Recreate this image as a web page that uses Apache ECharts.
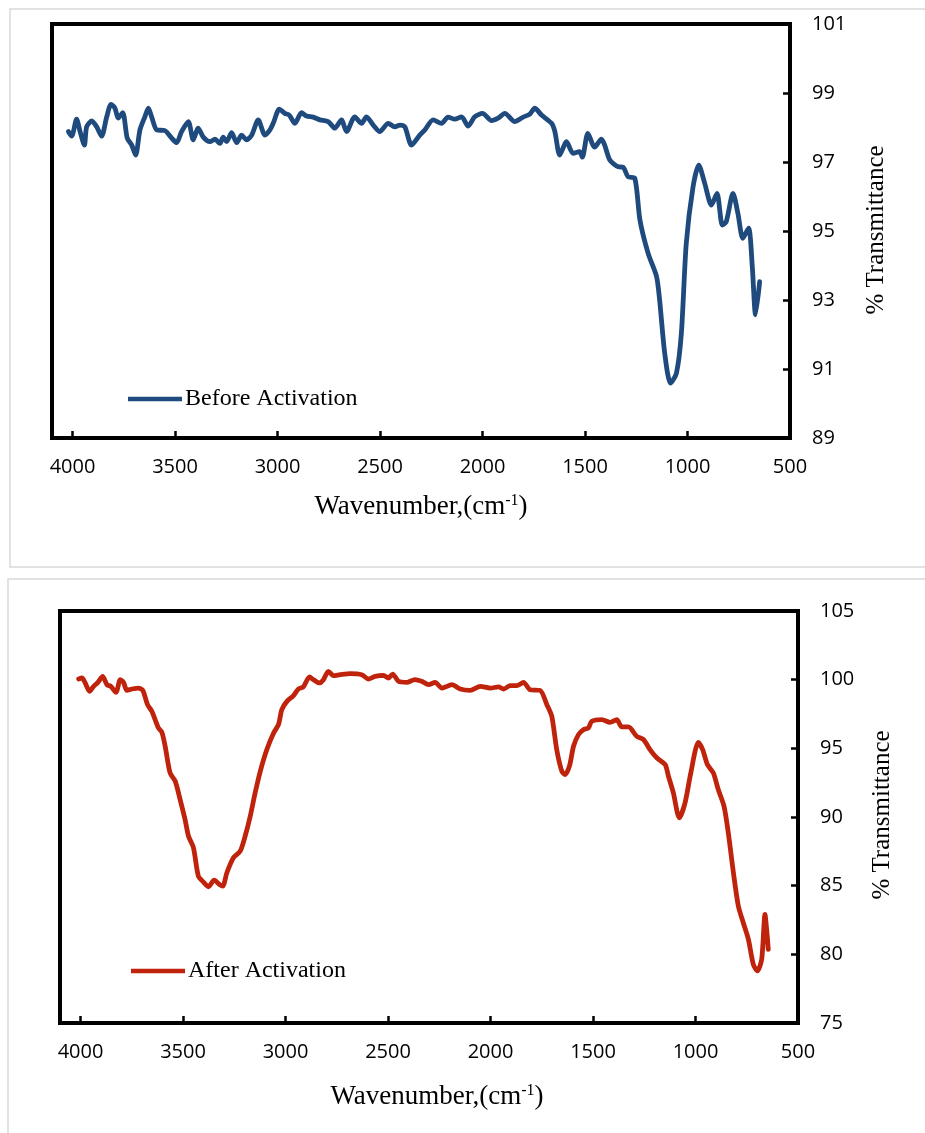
<!DOCTYPE html>
<html>
<head>
<meta charset="utf-8">
<script src="https://cdn.jsdelivr.net/npm/echarts@6/dist/echarts.min.js"></script>
<style>
html,body{margin:0;padding:0;background:#fff;}
#chart{width:925px;height:1133px;}
</style>
</head>
<body>
<div id="chart"></div>
<script>
// ---- Data: Before Activation (top) ----
const beforeWavenumber = [4020,4004,3980,3963,3942,3931,3906,3882,3858,3833,3812,3793,3777,3755,3733,3711,3692,3671,3647,3630,3614,3589,3549,3516,3492,3468,3435,3411,3387,3362,3330,3305,3281,3265,3248,3224,3199,3175,3151,3126,3094,3061,3037,3021,2991,2964,2943,2915,2883,2858,2826,2793,2753,2720,2688,2663,2623,2590,2566,2533,2501,2460,2428,2403,2379,2346,2306,2281,2241,2200,2168,2135,2102,2070,2038,2000,1956,1924,1891,1843,1802,1769,1745,1712,1663,1647,1623,1590,1558,1526,1513,1486,1453,1420,1404,1379,1338,1314,1290,1257,1232,1192,1151,1136,1111,1083,1054,1030,1006,973,945,916,883,856,830,811,778,754,730,702,684,668,648];
const beforeTransmittance = [97.88,97.75,98.24,97.88,97.49,98.02,98.19,98.02,97.75,98.31,98.67,98.56,98.27,98.43,97.69,97.49,97.20,97.93,98.31,98.56,98.31,97.93,97.91,97.69,97.56,97.88,98.17,97.64,97.98,97.72,97.59,97.66,97.54,97.72,97.59,97.85,97.56,97.78,97.64,97.78,98.22,97.78,97.93,98.12,98.53,98.41,98.36,98.12,98.43,98.33,98.30,98.22,98.17,97.98,98.22,97.88,98.31,98.12,98.31,98.07,97.88,98.12,98.02,98.07,98.02,97.49,97.78,97.93,98.22,98.12,98.30,98.24,98.31,98.04,98.31,98.41,98.20,98.27,98.41,98.17,98.30,98.39,98.56,98.36,98.12,97.88,97.20,97.59,97.25,97.30,97.14,97.83,97.43,97.66,97.49,97.06,96.86,96.85,96.57,96.53,95.32,94.35,93.68,93.00,91.45,90.59,90.88,92.03,94.64,96.28,96.91,96.38,95.75,96.09,95.17,95.27,96.09,95.51,94.79,95.08,93.97,92.57,93.53];

// ---- Data: After Activation (bottom) ----
const afterWavenumber = [4009,3993,3977,3956,3936,3915,3892,3871,3852,3827,3806,3790,3774,3749,3717,3696,3673,3652,3636,3620,3603,3587,3563,3538,3514,3490,3473,3449,3425,3400,3376,3348,3322,3306,3286,3254,3221,3197,3172,3148,3123,3091,3058,3034,3018,2993,2961,2937,2913,2883,2864,2835,2815,2791,2766,2734,2685,2628,2596,2563,2522,2498,2477,2449,2409,2369,2336,2302,2270,2237,2188,2148,2099,2050,2002,1961,1936,1904,1872,1839,1807,1758,1725,1701,1677,1652,1636,1615,1595,1571,1547,1522,1506,1457,1417,1384,1360,1327,1287,1254,1222,1189,1148,1132,1108,1079,1051,1023,986,965,942,913,889,861,840,815,791,767,742,718,698,677,661,653,645];
const afterTransmittance = [100.05,100.12,99.76,99.15,99.51,99.80,100.24,99.64,99.51,99.08,100.0,99.80,99.22,99.32,99.39,99.22,98.18,97.70,97.09,96.49,96.17,95.15,93.21,92.61,91.27,89.82,88.60,87.76,85.69,85.26,84.92,85.40,85.09,84.97,85.94,87.03,87.51,88.60,90.06,91.76,93.33,94.91,96.12,96.73,97.82,98.42,98.84,99.32,99.47,100.2,100.0,99.76,100.0,100.61,100.29,100.36,100.44,100.36,100.05,100.24,100.31,100.12,100.41,99.88,99.80,100.0,99.88,99.64,99.80,99.39,99.64,99.32,99.22,99.51,99.39,99.47,99.32,99.56,99.56,99.80,99.27,99.22,98.18,97.33,94.91,93.33,93.09,93.70,95.15,96.0,96.36,96.49,96.97,97.09,96.89,97.09,96.56,96.56,95.88,95.64,94.91,94.31,93.82,92.97,91.76,89.94,91.03,93.21,95.44,94.91,93.82,93.21,92.0,90.79,88.85,85.94,83.51,82.30,81.09,79.27,78.79,79.64,82.91,81.82,80.36];

// ---- Axis tick values ----
const xTicksMin = 500, xTicksMax = 4100, xTickStep = 500;
const topYMin = 89, topYMax = 101, topYStep = 2;
const botYMin = 75, botYMax = 105, botYStep = 5;

const seriesNames = ['Before Activation', 'After Activation'];
const xTitle = 'Wavenumber,(cm';
const yTitle = '% Transmittance';

const pairs = (xs, ys) => xs.map((x, i) => [x, ys[i]]);

const chart = echarts.init(document.getElementById('chart'), null, {renderer: 'canvas'});

const labelFont = {fontFamily: 'Open Sans', fontSize: 20, color: '#000'};
const serif = 'Liberation Serif';

function xAxis(gridIndex) {
  return {
    type: 'value', gridIndex, min: xTicksMin, max: xTicksMax, interval: xTickStep, inverse: true,
    axisLine: {show: true, lineStyle: {color: '#000', width: 4}},
    axisTick: {show: true, inside: true, length: 7, lineStyle: {color: '#000', width: 2.5}},
    axisLabel: Object.assign({margin: 19, showMaxLabel: false,
      formatter: v => (v > 4000 ? '' : String(v))}, labelFont),
    splitLine: {show: false}
  };
}
function yAxis(gridIndex, min, max, step) {
  return {
    type: 'value', gridIndex, position: 'right', min, max, interval: step,
    axisLine: {show: true, lineStyle: {color: '#000', width: 4}},
    axisTick: {show: true, inside: true, length: 7, lineStyle: {color: '#000', width: 2.5}},
    axisLabel: Object.assign({margin: 22, align: 'left'}, labelFont),
    splitLine: {show: false}
  };
}

const titleRich = {
  t: {fontFamily: serif, fontSize: 27, color: '#000'},
  s: {fontFamily: serif, fontSize: 16, color: '#000', verticalAlign: 'top', padding: [0, 0, 13, 0]}
};

chart.setOption({
  animation: false,
  backgroundColor: '#fff',
  grid: [
    {left: 52, top: 24, width: 738, height: 414, show: true, borderColor: '#000', borderWidth: 4, containLabel: false},
    {left: 60, top: 611, width: 738, height: 412, show: true, borderColor: '#000', borderWidth: 4, containLabel: false}
  ],
  xAxis: [xAxis(0), xAxis(1)],
  yAxis: [yAxis(0, topYMin, topYMax, topYStep), yAxis(1, botYMin, botYMax, botYStep)],
  legend: [
    {data: [seriesNames[0]], left: 128, top: 387, padding: 0, orient: 'vertical', icon: 'rect', itemWidth: 54, itemHeight: 4.5, itemGap: 4,
     textStyle: {fontFamily: serif, fontSize: 24, color: '#000', padding: [0, 0, 0, -2]}},
    {data: [seriesNames[1]], left: 131, top: 959, padding: 0, orient: 'vertical', icon: 'rect', itemWidth: 54, itemHeight: 4.5, itemGap: 4,
     textStyle: {fontFamily: serif, fontSize: 24, color: '#000', padding: [0, 0, 0, -2]}}
  ],
  graphic: [
    {type: 'rect', shape: {x: 10, y: 9, width: 930, height: 558}, style: {fill: 'none', stroke: '#d9d9d9', lineWidth: 1.5}, z: -1},
    {type: 'rect', shape: {x: 8, y: 579, width: 930, height: 600}, style: {fill: 'none', stroke: '#d9d9d9', lineWidth: 1.5}, z: -1},
    {type: 'text', x: 421, y: 507, style: {text: '{t|' + xTitle + '}{s|-1}{t|)}', rich: titleRich, textAlign: 'center', textVerticalAlign: 'middle'}},
    {type: 'text', x: 437, y: 1097, style: {text: '{t|' + xTitle + '}{s|-1}{t|)}', rich: titleRich, textAlign: 'center', textVerticalAlign: 'middle'}},
    {type: 'text', x: 876, y: 230, rotation: Math.PI / 2, style: {text: yTitle, fontFamily: serif, fontSize: 25, fill: '#000', textAlign: 'center', textVerticalAlign: 'middle'}},
    {type: 'text', x: 882, y: 815, rotation: Math.PI / 2, style: {text: yTitle, fontFamily: serif, fontSize: 25, fill: '#000', textAlign: 'center', textVerticalAlign: 'middle'}}
  ],
  series: [
    {name: seriesNames[0], type: 'line', xAxisIndex: 0, yAxisIndex: 0, data: pairs(beforeWavenumber, beforeTransmittance),
     symbol: 'none', smooth: 0.25, color: '#1F4A7E', lineStyle: {width: 4.8, color: '#1F4A7E', cap: 'round', join: 'round'}},
    {name: seriesNames[1], type: 'line', xAxisIndex: 1, yAxisIndex: 1, data: pairs(afterWavenumber, afterTransmittance),
     symbol: 'none', smooth: 0.25, color: '#C0230C', lineStyle: {width: 4.8, color: '#C0230C', cap: 'round', join: 'round'}}
  ]
});
</script>
</body>
</html>
